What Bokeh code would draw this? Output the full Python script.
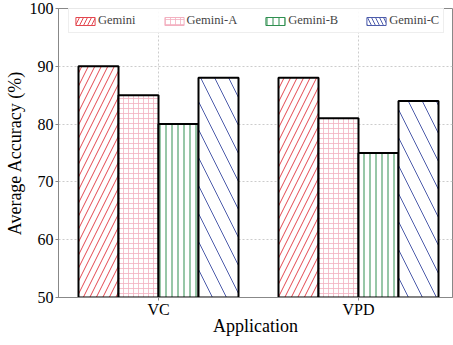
from bokeh.plotting import figure
from bokeh.models import ColumnDataSource, FixedTicker, Legend, LegendItem
from bokeh.embed import file_html
from bokeh.resources import INLINE

applications = ["VC", "VPD"]
models = ["Gemini", "Gemini-A", "Gemini-B", "Gemini-C"]
gemini = [90, 88]
gemini_a = [85, 81]
gemini_b = [80, 75]
gemini_c = [88, 84]
series = [gemini, gemini_a, gemini_b, gemini_c]

colors = ["#e3474f", "#f3b0c0", "#2f8f50", "#4d5cab"]
patterns = ["right_diagonal_line", "cross", "vertical_line", "left_diagonal_line"]
scales = [13, 5, 6, 28]
weights = [1.0, 0.8, 1.0, 1.0]

FONT = "Liberation Serif"
p = figure(width=453, height=345, output_backend="svg", toolbar_location=None,
           x_range=(-0.5, 1.47), y_range=(50, 100),
           min_border_left=58, min_border_right=1, min_border_top=8, min_border_bottom=48)

bar_w = 0.2
offsets = [-0.3, -0.1, 0.1, 0.3]
items = []
for i, m in enumerate(models):
    xs = [j + offsets[i] for j in range(len(applications))]
    src = ColumnDataSource(dict(x=xs, top=series[i]))
    p.vbar(x="x", top="top", bottom=50, width=bar_w, source=src,
           fill_color="white", line_color="black", line_width=2,
           hatch_pattern=patterns[i], hatch_color=colors[i],
           hatch_scale=scales[i], hatch_weight=weights[i])
    # legend-only proxy with coloured outline, placed outside the visible range
    proxy_src = ColumnDataSource(dict(x=[-10], top=[40]))
    proxy = p.vbar(x="x", top="top", bottom=30, width=bar_w, source=proxy_src,
                   fill_color="white", line_color=colors[i], line_width=1,
                   hatch_pattern=patterns[i], hatch_color=colors[i],
                   hatch_scale=min(scales[i], 8), hatch_weight=weights[i])
    items.append(LegendItem(label=m, renderers=[proxy]))

legend = Legend(items=items, orientation="horizontal", location=(10, 264),
                label_text_font=FONT, label_text_font_size="12.5px",
                glyph_width=24, glyph_height=10, label_height=13, spacing=26, padding=4,
                label_standoff=1, border_line_color="#dddddd", border_line_width=1,
                background_fill_alpha=0.9, margin=0)
p.add_layout(legend, "center")

p.xaxis.ticker = FixedTicker(ticks=[0, 1])
p.xaxis.major_label_overrides = {0: "VC", 1: "VPD"}
p.yaxis.ticker = FixedTicker(ticks=[50, 60, 70, 80, 90, 100])

p.xaxis.axis_label = "Application"
p.yaxis.axis_label = "Average Accuracy (%)"
for ax in (p.xaxis, p.yaxis):
    ax.axis_label_text_font = FONT
    ax.axis_label_text_font_size = "18px"
    ax.axis_label_text_font_style = "normal"
    ax.major_label_text_font = FONT
    ax.major_label_text_font_size = "16px"
    ax.major_label_text_color = "black"
    ax.axis_label_text_color = "black"
    ax.axis_line_color = "#888888"
    ax.major_tick_line_color = "#888888"
    ax.major_tick_out = 3
    ax.major_tick_in = 0
    ax.minor_tick_line_color = None
p.xaxis.major_label_standoff = 0
p.xaxis.axis_label_standoff = -5
p.yaxis.major_label_standoff = 2
p.yaxis.axis_label_standoff = 2

p.grid.grid_line_color = "#cccccc"
p.grid.grid_line_dash = "2 2"
p.outline_line_color = "#888888"
p.background_fill_color = "white"
p.border_fill_color = "white"

open("out.html", "w").write(file_html(p, INLINE))
